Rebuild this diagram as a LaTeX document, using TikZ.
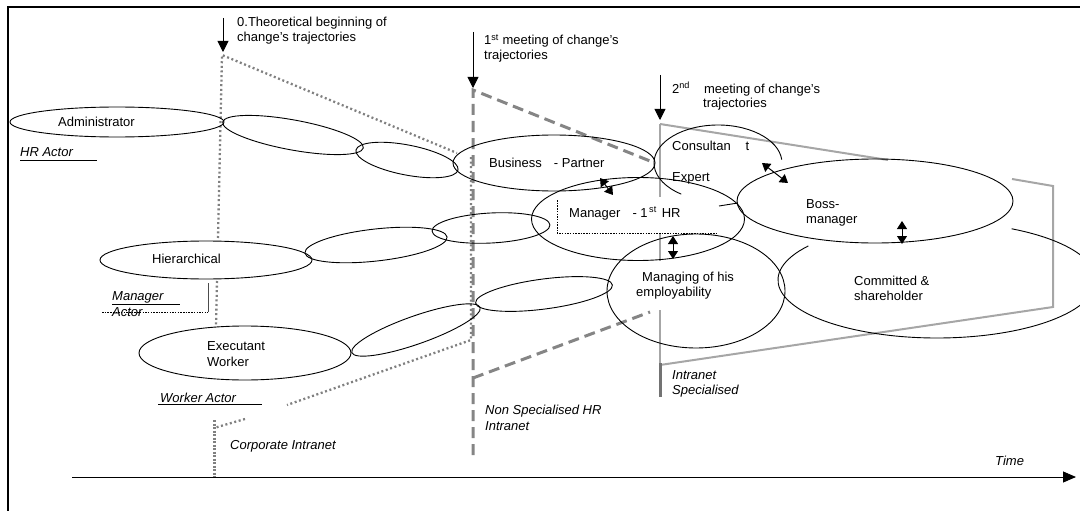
\documentclass[tikz,border=0pt]{standalone}
\usepackage{fontspec}
\setmainfont{Liberation Sans}
\usepackage{xcolor}
\usepackage{tikz}
\usetikzlibrary{arrows.meta, shapes.geometric}

\begin{document}
\begin{tikzpicture}[
						x=1pt, y=-1pt,
						every node/.style={font=\fontsize{13}{15}\selectfont, inner sep=0pt},
						lbl/.style={anchor=base west},
						actor/.style={anchor=base west, font=\fontsize{13}{15}\selectfont\itshape},
						oval/.style={ellipse, draw=black, line width=0.9pt, inner sep=0pt},
						corp_line/.style={draw=black!50, line width=2.3pt, dash pattern=on 2pt off 2.6pt},
						nonspec_line/.style={draw=black!48, line width=3pt, dash pattern=on 11pt off 6pt},
						spec_line/.style={draw=black!35, line width=2pt},
						marker/.style={-{Triangle[length=11pt,width=11pt]}, line width=0.9pt},
						link/.style={{Triangle[length=8pt,width=10pt]}-{Triangle[length=8pt,width=10pt]}, line width=1pt},
						under_line/.style={draw, black, line width=0.8pt}
						]
						\useasboundingbox (0,0) rectangle (1080,511);
						\clip (0,0) rectangle (1080,511);
						% --- 1. KHUNG ---
						\draw[line width=1.6pt] (8,511) -- (8,7) -- (1080,7);
						
						% --- 2. CAC DUONG INTRANET ---
						% Corporate Intranet (cham)
						\draw[corp_line] (218,238) -- (222,55) -- (457,153);
						\draw[corp_line] (471,157) -- (471,340) -- (287,405);
						\draw[corp_line] (217,281) -- (216,327);
						\draw[corp_line] (245,419) -- (214,428);
						\draw[corp_line, line width=3pt, dash pattern=on 2pt off 1.5pt] (214,420) -- (214,477);
						% Non Specialised HR Intranet (gach)
						\draw[nonspec_line] (473,455) -- (473,90) -- (655,163);
						\draw[nonspec_line] (473,378) -- (650,312);
						% Intranet Specialised (lien)
						\draw[spec_line] (660,124) -- (888,160);
						\draw[spec_line] (1012,179) -- (1053,186) -- (1053,307) -- (660,365);
						\draw[spec_line] (660,124) -- (660,197);
						\draw[spec_line] (660,234) -- (660,261);
						\draw[spec_line] (660,310) -- (660,365);
						\draw[draw=black!55, line width=3pt] (660,363) -- (660,397);
						
						% --- 3. CAC ELLIPSE ---
						\node[oval, minimum width=214pt, minimum height=30pt] (admin) at (117,122) {};
						\node[oval, minimum width=143pt, minimum height=30pt, rotate=-10.4] (top_b) at (293,135) {};
						\node[oval, minimum width=104pt, minimum height=30pt, rotate=-11] (top_c) at (407,160) {};
						\node[oval, minimum width=202pt, minimum height=56pt] (partner) at (554,163) {};
						
						\node[oval, minimum width=212pt, minimum height=38pt] (hier) at (206,260) {};
						\node[oval, minimum width=143pt, minimum height=32pt, rotate=6.4] (mid_b) at (376,245) {};
						\node[oval, minimum width=118pt, minimum height=30pt, rotate=3] (mid_c) at (491,228) {};
						\node[oval, minimum width=213pt, minimum height=83pt] (mgr_hr) at (638,219) {};
						
						\node[oval, minimum width=212pt, minimum height=54pt] (exec) at (245,353) {};
						\node[oval, minimum width=136pt, minimum height=28pt, rotate=19.4] (bot_b) at (416,330) {};
						\node[oval, minimum width=138pt, minimum height=30pt, rotate=7.5] (bot_c) at (544,294) {};
						\node[oval, minimum width=178pt, minimum height=114pt] (employ) at (696,291) {};
						
						\node[oval, minimum width=276pt, minimum height=84pt] (boss) at (875,201) {};
						\draw[line width=0.9pt] (718,163) ++(-5:64 and 38)
						arc[start angle=-5, end angle=-235, x radius=64, y radius=38];
						\draw[line width=0.9pt] (719,206) -- (738,203);
						\draw[line width=0.9pt] (937,280) ++(-144:159 and 58)
						arc[start angle=-144, end angle=-422, x radius=159, y radius=58];
						
						% khung cham cua Manager - 1st HR
						\draw[line width=0.6pt, dash pattern=on 1.5pt off 1.2pt] (557,200) -- (557,233) -- (718,233);
						
						% --- 4. NHAN ---
						\node[lbl] (t0a) at (237,27) {0.Theoretical beginning of};
						\node[lbl] (t0b) at (237,42) {change's trajectories};
						\node[lbl] (t1a) at (484,45) {1\textsuperscript{st} meeting of change's};
						\node[lbl] (t1b) at (484,60) {trajectories};
						\node[lbl] (t2a) at (672,93) {2\textsuperscript{nd}\hspace{14pt}meeting of change's};
						\node[lbl] (t2b) at (703,107) {trajectories};
						
						\node[lbl] (l_admin) at (58,127) {Administrator};
						\node[lbl] (l_hier) at (152,263) {Hierarchical};
						\node[lbl] (l_exec_a) at (207,350) {Executant};
						\node[lbl] (l_exec_b) at (207,366) {Worker};
						\node[lbl] (l_partner) at (489,167) {Business\hspace{12pt}- Partner};
						\node[lbl] (l_cons) at (672,150) {Consultan\hspace{15pt}t};
						\node[lbl] (l_expert) at (672,181) {Expert};
						\node[lbl] (l_mgr) at (569,217) {Manager\hspace{12pt}- 1\textsuperscript{\,st}\hspace{5pt}HR};
						\node[lbl] (l_emp_a) at (642,281) {Managing of his};
						\node[lbl] (l_emp_b) at (636,296) {employability};
						\node[lbl] (l_boss_a) at (806,208) {Boss-};
						\node[lbl] (l_boss_b) at (806,223) {manager};
						\node[lbl] (l_comm_a) at (854,285) {Committed \&};
						\node[lbl] (l_comm_b) at (854,300) {shareholder};
						
						\node[actor] (a_hr) at (20,157) {HR Actor};
						\draw[under_line] (20,160) -- (97,160);
						\node[actor] (a_mgr_a) at (112,300) {Manager};
						\node[actor] (a_mgr_b) at (112,316) {Actor};
						\draw[under_line] (112,304) -- (180,304);
						\draw[line width=0.6pt, dash pattern=on 1.5pt off 1.2pt] (102,312) -- (208,312);
						\draw[line width=0.6pt, black!70] (208,283) -- (208,312);
						\node[actor] (a_work) at (160,402) {Worker Actor};
						\draw[under_line] (158,404) -- (262,404);
						
						\node[actor] (i_corp) at (230,449) {Corporate Intranet};
						\node[actor] (i_non_a) at (485,414) {Non Specialised HR};
						\node[actor] (i_non_b) at (485,430) {Intranet};
						\node[actor] (i_spec_a) at (672,379) {Intranet};
						\node[actor] (i_spec_b) at (672,394) {Specialised};
						\node[actor] (l_time) at (995,465) {Time};
						
						% --- 5. MUI TEN ---
						\coordinate (m0_top) at (223,18);
						\coordinate (m0_tip) at (223,52);
						\coordinate (m1_top) at (473,32);
						\coordinate (m1_tip) at (473,88);
						\coordinate (m2_top) at (660,75);
						\coordinate (m2_tip) at (660,120);
						\draw[marker] (m0_top) -- (m0_tip);
						\draw[marker] (m1_top) -- (m1_tip);
						\draw[marker] (m2_top) -- (m2_tip);
						
						\coordinate (bp_up) at (600,178);
						\coordinate (bp_dn) at (613,195);
						\coordinate (cb_up) at (762,163);
						\coordinate (cb_dn) at (788,183);
						\coordinate (bc_up) at (902,221);
						\coordinate (bc_dn) at (902,244);
						\coordinate (me_up) at (673,236);
						\coordinate (me_dn) at (673,259);
						\draw[link] (bp_up) -- (bp_dn);
						\draw[link] (cb_up) -- (cb_dn);
						\draw[link] (bc_up) -- (bc_dn);
						\draw[link] (me_up) -- (me_dn);
						
						% truc thoi gian
						\coordinate (t_start) at (72,477);
						\coordinate (t_end) at (1076,477);
						\draw[-{Triangle[length=13pt,width=11pt]}, line width=0.9pt] (t_start) -- (t_end);
						
					\end{tikzpicture}
\end{document}
